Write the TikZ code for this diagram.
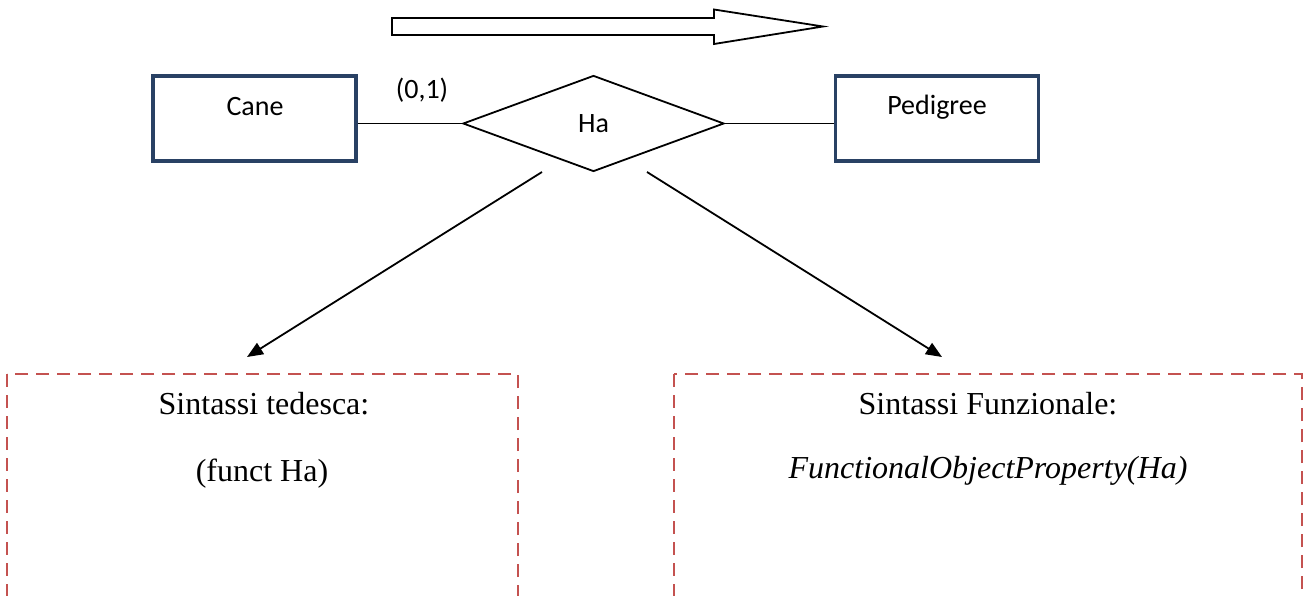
\documentclass[tikz,border=0pt]{standalone}
\usepackage{fontspec}
\setmainfont{Liberation Serif}
\newfontfamily\erfont{Carlito}
\usetikzlibrary{shapes.geometric,arrows.meta}
\definecolor{entityblue}{RGB}{41,65,100}
\definecolor{boxred}{RGB}{196,82,80}
\tikzset{
  entity/.style={draw=entityblue, line width=3.2pt, minimum width=203pt, minimum height=85pt, inner sep=0pt},
  relation/.style={draw, diamond, line width=1.8pt, minimum width=261pt, minimum height=96pt, inner sep=0pt, font=\erfont\fontsize{28}{32}\selectfont},
  erlabel/.style={anchor=base, font=\erfont\fontsize{28}{32}\selectfont},
  link/.style={line width=1.8pt},
  pointer/.style={line width=1.8pt, -{Triangle[length=16pt,width=13pt]}},
  syntaxbox/.style={draw=boxred, line width=2.4pt, dash pattern=on 13pt off 8pt},
  syntaxtext/.style={anchor=base, font=\fontsize{32}{38}\selectfont},
}
\begin{document}
\begin{tikzpicture}[x=1pt, y=-1pt]
  \clip (0,0) rectangle (1303,596);
  \fill[white] (0,0) rectangle (1303,596);

  % block arrow showing the reading direction
  \draw[line width=1.8pt, fill=white]
    (392,18) -- (714,18) -- (714,9.5) -- (823,26.5) -- (714,44) -- (714,35) -- (392,35) -- cycle;

  % entities and relationship
  \node[entity] (cane) at (254.5,118.5) {};
  \node[erlabel] (canetext) at (255,116) {Cane};
  \node[entity] (pedigree) at (937,118.5) {};
  \node[erlabel] (pedigreetext) at (937,115) {Pedigree};
  \node[relation] (ha) at (593.5,123.5) {Ha};
  \node[erlabel] (card) at (422,99) {(0,1)};

  \draw[link] (cane.east |- ha.west) -- (ha.west);
  \draw[link] (ha.east) -- (pedigree.west |- ha.east);

  % translation arrows
  \coordinate (leftfrom) at (542,172);
  \coordinate (leftto) at (247,357);
  \coordinate (rightfrom) at (647,172);
  \coordinate (rightto) at (942,357);
  \draw[pointer] (leftfrom) -- (leftto);
  \draw[pointer] (rightfrom) -- (rightto);

  % syntax boxes
  \draw[syntaxbox] (7,374) rectangle (518,640);
  \draw[syntaxbox] (674,374) rectangle (1302,640);

  \node[syntaxtext] (tedesca) at (264,414) {Sintassi tedesca:};
  \node[syntaxtext] (tedescaexpr) at (262,481) {(funct Ha)};
  \node[syntaxtext] (funzionale) at (988,414) {Sintassi Funzionale:};
  \node[syntaxtext] (funzionaleexpr) at (988,478) {\itshape FunctionalObjectProperty(Ha)};
\end{tikzpicture}
\end{document}
